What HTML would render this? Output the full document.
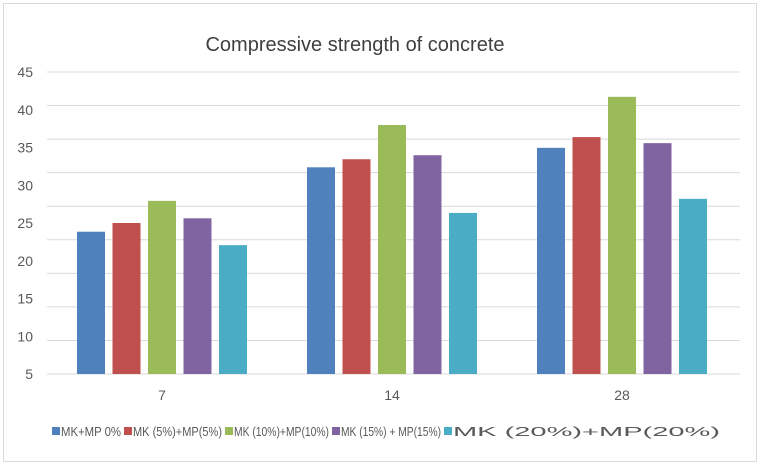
<!DOCTYPE html>
<html><head><meta charset="utf-8"><style>
body{margin:0;background:#fff;font-family:"Liberation Sans",sans-serif;}
</style></head><body>
<svg width="762" height="466" viewBox="0 0 762 466" xmlns="http://www.w3.org/2000/svg">
<rect x="3.5" y="3.5" width="753" height="458" fill="#fff" stroke="#d9d9d9"/>
<text x="355" y="51" text-anchor="middle" font-size="20" fill="#404040" font-family="Liberation Sans, sans-serif">Compressive strength of concrete</text>
<g id="grid"></g><g id="ylabels"></g><g id="bars"></g><g id="xlabels"></g><g id="legend"></g>
</svg>
<script>
const categories = ["7", "14", "28"];
const seriesNames = ["MK+MP 0%", "MK (5%)+MP(5%)", "MK (10%)+MP(10%)", "MK (15%) + MP(15%)", "MK (20%)+MP(20%)"];
const s0 = [21.2, 30.8, 33.7];
const s1 = [22.5, 32.0, 35.3];
const s2 = [25.8, 37.1, 41.3];
const s3 = [23.2, 32.6, 34.4];
const s4 = [19.2, 24.0, 26.1];
const yTickLabels = ["5", "10", "15", "20", "25", "30", "35", "40", "45"];
const gridValues = [0, 5, 10, 15, 20, 25, 30, 35, 40, 45];
const series = [s0, s1, s2, s3, s4];
const colors = ["#4f81bd", "#c0504d", "#9bbb59", "#8064a2", "#4bacc6"];
const NS = "http://www.w3.org/2000/svg";
const x0 = 47, x1 = 737, yBase = 374, yTop = 72, yMax = 45;
const yScale = v => yBase - (v / yMax) * (yBase - yTop);
const catW = (x1 - x0) / categories.length;
const xCenter = i => x0 + catW * (i + 0.5);
function mk(tag, attrs, parent) { const e = document.createElementNS(NS, tag); for (const k in attrs) e.setAttribute(k, attrs[k]); parent.appendChild(e); return e; }
const grid = document.getElementById('grid');
gridValues.forEach(v => {
  const l = mk('line', {x1: x0, x2: 740, y1: yScale(v), y2: yScale(v), stroke: '#d9d9d9', 'stroke-width': 1}, grid);
  
  
});
const yl = document.getElementById('ylabels');
yTickLabels.forEach((t, i) => {
  const y = yBase - i * (yBase - yTop) / (yTickLabels.length - 1);
  const e = mk('text', {x: 33, y: y + 5, 'text-anchor': 'end', 'font-size': 14, fill: '#595959'}, yl);
  e.textContent = t;
  
  
});
const bars = document.getElementById('bars');
const step = 35.5, bw = 28;
series.forEach((s, si) => {
  s.forEach((v, ci) => {
    const cx = xCenter(ci) + (si - 2) * step;
    const r = mk('rect', {x: cx - bw / 2, y: yScale(v), width: bw, height: yBase - yScale(v), fill: colors[si]}, bars);
    
    
  });
});
const xl = document.getElementById('xlabels');
categories.forEach((c, i) => {
  const e = mk('text', {x: xCenter(i), y: 400, 'text-anchor': 'middle', 'font-size': 14, fill: '#595959'}, xl);
  e.textContent = c;
  
  
});
const lg = document.getElementById('legend');
const legX = [52, 124, 225, 332, 444];
seriesNames.forEach((n, i) => {
  const r = mk('rect', {x: legX[i], y: 427, width: 8, height: 8, fill: colors[i]}, lg);
  
  
  const t = mk('text', {x: legX[i] + 9, y: 436, 'font-size': 13, fill: '#595959', textLength: (i < 4 ? legX[i + 1] - legX[i] - 12 : 270), lengthAdjust: 'spacingAndGlyphs'}, lg);
  t.textContent = n;
  
  
});
// last legend entry width fix
lg.lastChild.setAttribute('textLength', 267);
</script>
</body></html>
